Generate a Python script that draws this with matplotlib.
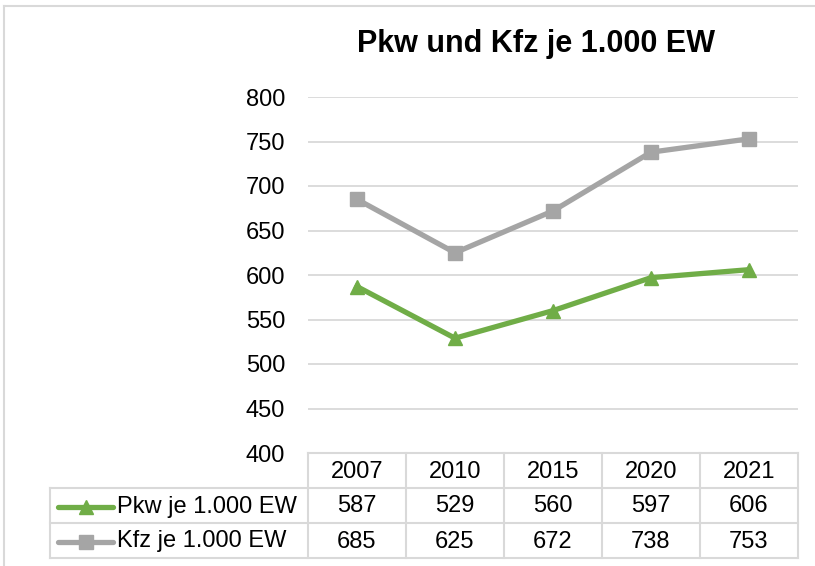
import matplotlib
matplotlib.use("Agg")
import matplotlib.pyplot as plt

plt.rcParams['font.family'] = ['Liberation Sans', 'DejaVu Sans']

years = ["2007", "2010", "2015", "2020", "2021"]
pkw = [587, 529, 560, 597, 606]
kfz = [685, 625, 672, 738, 753]
series_names = ["Pkw je 1.000 EW", "Kfz je 1.000 EW"]
title = "Pkw und Kfz je 1.000 EW"
yticks = [400, 450, 500, 550, 600, 650, 700, 750, 800]

GREEN = "#70AD47"
GRAY = "#A5A5A5"
GRID = "#D9D9D9"

W, H = 815, 566
fig = plt.figure(figsize=(W / 100, H / 100), dpi=100)

# background overlay in pixel coordinates
bg = fig.add_axes([0, 0, 1, 1], zorder=0)
bg.set_xlim(0, W)
bg.set_ylim(H, 0)
bg.axis("off")

# outer chart border
bg.plot([4, W + 5], [6, 6], color=GRID, lw=1.5)
bg.plot([4, 4], [6, H + 5], color=GRID, lw=1.5)

# plot axes
L, R, T, B = 308, 798, 97, 453
ax = fig.add_axes([L / W, 1 - B / H, (R - L) / W, (B - T) / H], zorder=1)
ax.set_facecolor("none")
x = list(range(len(years)))
ax.plot(x, kfz, color=GRAY, lw=3.8, marker="s", markersize=9.5, zorder=3)
ax.plot(x, pkw, color=GREEN, lw=3.8, marker="^", markersize=10, zorder=3)
ax.set_xlim(-0.5, len(years) - 0.5)
ax.set_ylim(400, 800)
ax.set_yticks(yticks)
ax.set_yticklabels([str(v) for v in yticks], fontsize=17)
ax.set_xticks([])
ax.tick_params(axis="y", length=0, pad=16.5)
for s in ax.spines.values():
    s.set_visible(False)
ax.grid(axis="y", color=GRID, lw=1.3)
ax.set_axisbelow(True)

# title
fig.text(536 / W, 1 - 44 / H, title, fontsize=22, fontweight="bold",
         ha="center", va="center")

# data table
col_edges = [308, 406, 504, 602, 700, 798]
row_edges = [453, 488, 523, 558]
tl = 50
lw_t = 1.5
# horizontal lines
bg.plot([col_edges[0], col_edges[-1]], [row_edges[0]] * 2, color=GRID, lw=lw_t)
for y in row_edges[1:]:
    bg.plot([tl, col_edges[-1]], [y, y], color=GRID, lw=lw_t)
# vertical lines
bg.plot([tl, tl], [row_edges[1], row_edges[-1]], color=GRID, lw=lw_t)
for xe in col_edges:
    bg.plot([xe, xe], [row_edges[0], row_edges[-1]], color=GRID, lw=lw_t)

centers = [(col_edges[i] + col_edges[i + 1]) / 2 for i in range(len(years))]
hy = (row_edges[0] + row_edges[1]) / 2 + 1
for cx, yr in zip(centers, years):
    bg.text(cx, hy, yr, fontsize=17, ha="center", va="center")

rows = [(pkw, GREEN, "^", 10), (kfz, GRAY, "s", 9.5)]
for i, ((vals, col, mk, ms), name) in enumerate(zip(rows, series_names)):
    cy = (row_edges[i + 1] + row_edges[i + 2]) / 2 + 1
    bg.plot([58, 113], [cy, cy], color=col, lw=3.8, solid_capstyle="round")
    bg.plot([85.5], [cy], marker=mk, color=col, markersize=ms)
    bg.text(117, cy, name, fontsize=17, ha="left", va="center")
    for cx, v in zip(centers, vals):
        bg.text(cx, cy, str(v), fontsize=17, ha="center", va="center")

fig.savefig("out.png", dpi=100)
